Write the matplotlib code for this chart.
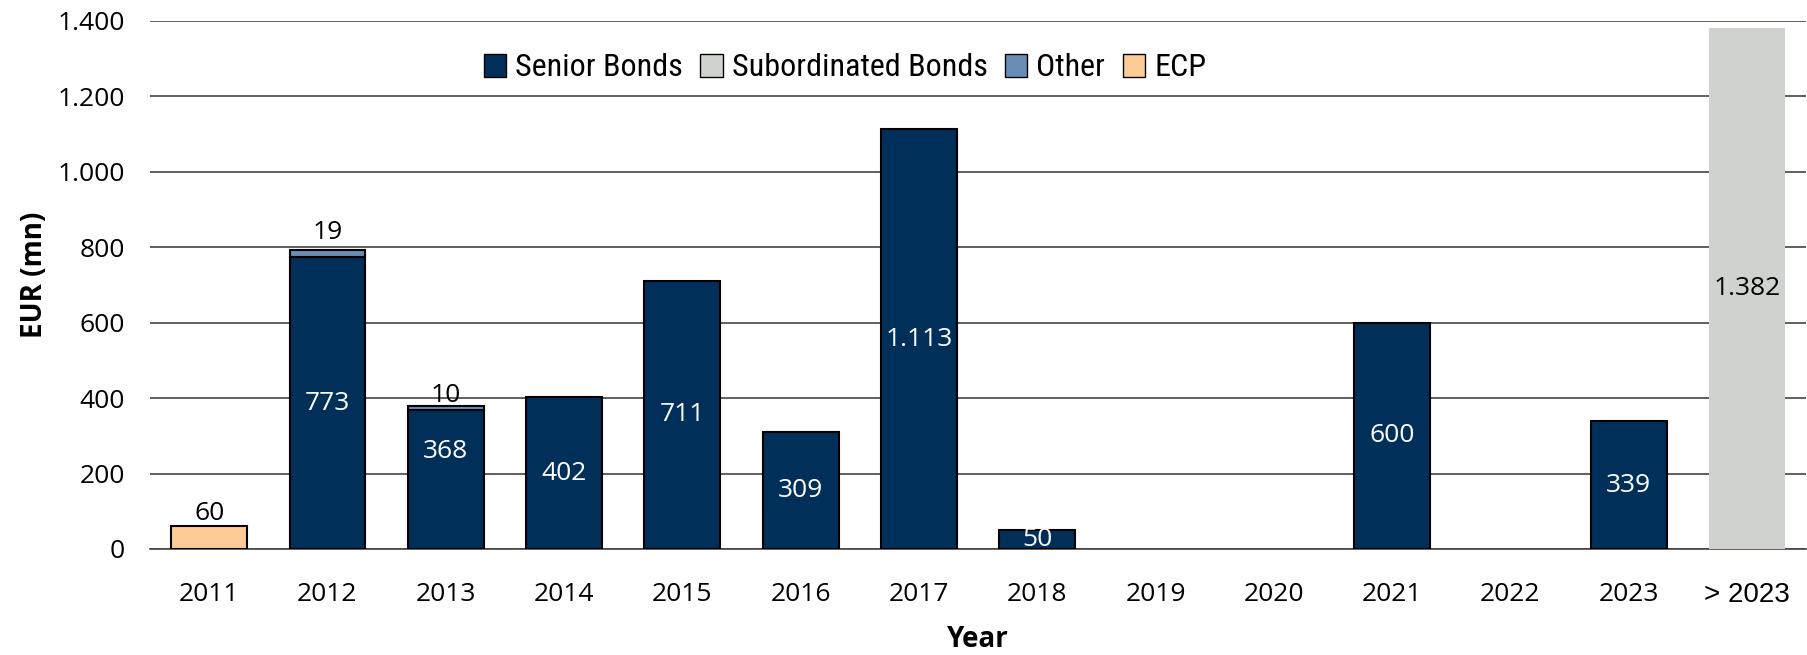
import matplotlib
matplotlib.use("Agg")
import matplotlib.pyplot as plt
from matplotlib.patches import Patch
import numpy as np

categories = ['2011', '2012', '2013', '2014', '2015', '2016', '2017', '2018',
              '2019', '2020', '2021', '2022', '2023', '> 2023']
ecp = [60, 0, 0, 0, 0, 0, 0, 0, 0, 0, 0, 0, 0, 0]
senior = [0, 773, 368, 402, 711, 309, 1113, 50, 0, 0, 600, 0, 339, 0]
other = [0, 19, 10, 0, 0, 0, 0, 0, 0, 0, 0, 0, 0, 0]
subordinated = [0, 0, 0, 0, 0, 0, 0, 0, 0, 0, 0, 0, 0, 1382]
yticks = [0, 200, 400, 600, 800, 1000, 1200, 1400]

C_SENIOR = '#00305A'
C_SUB = '#D0D3CD'
C_OTHER = '#6A8DB5'
C_ECP = '#FDCB96'

NUMFONT = ['Open Sans', 'DejaVu Sans']
CONDFONT = ['Roboto Condensed', 'Liberation Sans Narrow', 'DejaVu Sans']
plt.rcParams['font.family'] = NUMFONT

# manual label nudges (in points), as placed in the original chart
senior_label_nudge = {'2013': 20}
other_label_nudge = {'2012': 5}

def fmt(v):
    return f"{v:,}".replace(',', '.')

fig = plt.figure(figsize=(18.08, 6.55), dpi=100)
ax = fig.add_axes([150/1808, 1-549/655, 1-150/1808-0.001, (549-21)/655])

x = np.arange(len(categories))
w = 0.64
ecp_a = np.array(ecp); sen_a = np.array(senior); oth_a = np.array(other); sub_a = np.array(subordinated)

m = ecp_a > 0
ax.bar(x[m], ecp_a[m], w, color=C_ECP, edgecolor='black', linewidth=1.5, zorder=3)
m = sen_a > 0
ax.bar(x[m], sen_a[m], w, bottom=ecp_a[m], color=C_SENIOR, edgecolor='black', linewidth=1.5, zorder=3)
m = oth_a > 0
ax.bar(x[m], oth_a[m], w, bottom=(ecp_a + sen_a)[m], color=C_OTHER, edgecolor='black', linewidth=1.5, zorder=3)
m = sub_a > 0
ax.bar(x[m], sub_a[m], w, bottom=(ecp_a + sen_a + oth_a)[m], color=C_SUB, edgecolor='none', zorder=3)

fs = 19
for i, cat in enumerate(categories):
    if ecp[i] > 0:
        ax.annotate(fmt(ecp[i]), (x[i], ecp[i]), xytext=(0, 0), textcoords='offset points',
                    ha='center', va='bottom', fontsize=fs, color='black', zorder=5)
    if senior[i] > 0:
        ax.annotate(fmt(senior[i]), (x[i], ecp[i] + senior[i] / 2),
                    xytext=(0, senior_label_nudge.get(cat, 0)), textcoords='offset points',
                    ha='center', va='center', fontsize=fs, color='white', zorder=5)
    if other[i] > 0:
        top = ecp[i] + senior[i] + other[i]
        ax.annotate(fmt(other[i]), (x[i], top), xytext=(0, -1 + other_label_nudge.get(cat, 0)),
                    textcoords='offset points',
                    ha='center', va='bottom', fontsize=fs, color='black', zorder=5)
    if subordinated[i] > 0:
        base = ecp[i] + senior[i] + other[i]
        ax.text(x[i], base + subordinated[i] / 2, fmt(subordinated[i]), ha='center', va='center',
                fontsize=fs, color='black', zorder=5)

ax.set_xlim(-0.5, len(categories) - 0.5)
ax.set_ylim(0, 1400)
ax.set_yticks(yticks)
ax.set_yticklabels([fmt(v) for v in yticks], fontsize=fs)
ax.set_xticks(x)
ax.set_xticklabels(categories, fontsize=fs)
last = ax.get_xticklabels()[-1]
last.set_family(['Liberation Sans', 'DejaVu Sans'])
last.set_fontsize(20)
ax.tick_params(axis='both', length=0)
ax.tick_params(axis='x', pad=24)
ax.tick_params(axis='y', pad=18)

ax.yaxis.grid(True, color='#444444', linewidth=1.2)
ax.set_axisbelow(True)
for s in ['top', 'right', 'left']:
    ax.spines[s].set_visible(False)
ax.spines['bottom'].set_color('#444444')
ax.spines['bottom'].set_linewidth(1.2)

ax.set_ylabel('EUR (mn)', fontsize=20, fontweight='bold')
ax.yaxis.set_label_coords(-0.061, 0.52)
ax.set_xlabel('Year', fontsize=20, fontweight='bold', labelpad=12)

handles = [Patch(facecolor=C_SENIOR, edgecolor='black', label='Senior Bonds'),
           Patch(facecolor=C_SUB, edgecolor='black', label='Subordinated Bonds'),
           Patch(facecolor=C_OTHER, edgecolor='black', label='Other'),
           Patch(facecolor=C_ECP, edgecolor='black', label='ECP')]
fig.legend(handles=handles, loc='center', bbox_to_anchor=(845/1808, 1-68/655), ncol=4,
           frameon=False, prop={'family': CONDFONT, 'size': 23}, handlelength=0.7, handleheight=0.7,
           columnspacing=0.55, handletextpad=0.28, borderpad=0)

fig.savefig('out.png', dpi=100)
